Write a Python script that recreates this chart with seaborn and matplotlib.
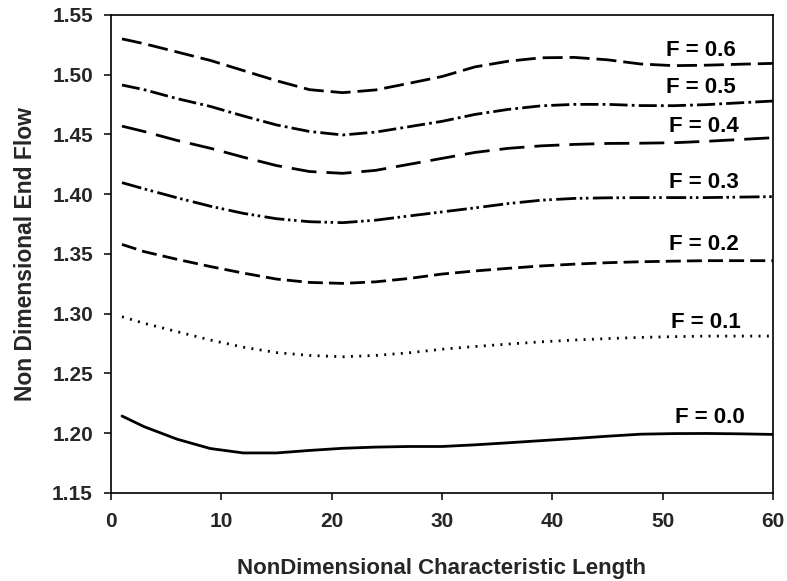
import numpy as np
import pandas as pd
import matplotlib
matplotlib.use("Agg")
import matplotlib.pyplot as plt
import seaborn as sns

# ---- data ----
x_vals = [1, 3, 6, 9, 12, 15, 18, 21, 24, 27, 30, 33, 36, 39, 42, 45, 48, 51, 54, 57, 60]

f06 = [1.530, 1.526, 1.519, 1.512, 1.5035, 1.495, 1.4875, 1.485, 1.4873, 1.4928, 1.4985,
       1.5066, 1.5113, 1.5142, 1.5145, 1.5125, 1.509, 1.5076, 1.508, 1.5088, 1.5095]
f05 = [1.4914, 1.4875, 1.480, 1.4735, 1.4655, 1.458, 1.4525, 1.4496, 1.452, 1.4565, 1.461,
       1.4668, 1.471, 1.474, 1.4752, 1.4752, 1.4742, 1.4741, 1.475, 1.4765, 1.478]
f04 = [1.457, 1.4525, 1.445, 1.4385, 1.431, 1.424, 1.419, 1.4175, 1.420, 1.425, 1.430,
       1.435, 1.4384, 1.4405, 1.4417, 1.4425, 1.4427, 1.4431, 1.4443, 1.4458, 1.4473]
f03 = [1.4097, 1.4045, 1.397, 1.390, 1.384, 1.3795, 1.377, 1.3762, 1.3783, 1.3818, 1.3852,
       1.3886, 1.3922, 1.395, 1.3965, 1.397, 1.3972, 1.3972, 1.3972, 1.3976, 1.398]
f02 = [1.358, 1.352, 1.3455, 1.3395, 1.334, 1.329, 1.3262, 1.3254, 1.3267, 1.3295, 1.3332,
       1.3358, 1.338, 1.340, 1.3415, 1.3427, 1.3435, 1.344, 1.3444, 1.3444, 1.3444]
f01 = [1.2975, 1.292, 1.285, 1.278, 1.272, 1.2675, 1.2651, 1.264, 1.2651, 1.2673, 1.2703,
       1.2726, 1.2746, 1.2765, 1.278, 1.2792, 1.2802, 1.2808, 1.2813, 1.2813, 1.2813]
f00 = [1.2144, 1.2055, 1.195, 1.1872, 1.1835, 1.1835, 1.1856, 1.1874, 1.1884, 1.1889, 1.1889,
       1.1903, 1.192, 1.1938, 1.1956, 1.1975, 1.1992, 1.1997, 1.1998, 1.1995, 1.199]

series_names = ["F = 0.0", "F = 0.1", "F = 0.2", "F = 0.3", "F = 0.4", "F = 0.5", "F = 0.6"]
series_vals = [f00, f01, f02, f03, f04, f05, f06]

x_ticks = [0, 10, 20, 30, 40, 50, 60]
y_ticks = [1.15, 1.20, 1.25, 1.30, 1.35, 1.40, 1.45, 1.50, 1.55]

frames = []
for name, vals in zip(series_names, series_vals):
    frames.append(pd.DataFrame({"x": x_vals, "y": vals, "F": name}))
df = pd.concat(frames, ignore_index=True)

# ---- styling ----
sns.set_theme(style="white")
plt.rcParams["font.family"] = ["Liberation Sans", "DejaVu Sans"]
plt.rcParams["font.weight"] = "bold"

dash_styles = {
    "F = 0.0": "",
    "F = 0.1": (0.7, 2.3),
    "F = 0.2": (5.4, 2.2),
    "F = 0.3": (7.2, 1.3, 0.9, 1.3, 0.9, 1.6),
    "F = 0.4": (9.0, 3.6),
    "F = 0.5": (6.5, 1.5, 1.0, 1.5),
    "F = 0.6": (7.2, 2.5),
}
palette = {n: "black" for n in series_names}

fig = plt.figure(figsize=(7.87, 5.81), dpi=100)
ax = fig.add_axes([0.141, 0.1515, 0.8412, 0.8227])

sns.lineplot(data=df, x="x", y="y", hue="F", style="F", palette=palette,
             dashes=dash_styles, linewidth=2.0, legend=False, ax=ax,
             hue_order=series_names, style_order=series_names)

ax.set_xlim(0, 60)
ax.set_ylim(1.15, 1.55)
ax.set_xticks(x_ticks)
ax.set_yticks(y_ticks)
ax.set_xticklabels([str(t) for t in x_ticks], fontsize=15, fontweight="bold")
ax.set_yticklabels([f"{t:.2f}" for t in y_ticks], fontsize=15, fontweight="bold")
ax.tick_params(axis="x", direction="out", length=5, width=1.1, color="black",
               bottom=True, pad=9)
ax.tick_params(axis="y", direction="out", length=5, width=1.1, color="black",
               left=True, pad=8)
for sp in ax.spines.values():
    sp.set_visible(True)
    sp.set_color("black")
    sp.set_linewidth(1.2)

ax.set_xlabel("NonDimensional Characteristic Length", fontsize=16, fontweight="bold",
              labelpad=19)
ax.set_ylabel("Non Dimensional End Flow", fontsize=16.5, fontweight="bold", labelpad=11)

# curve labels
label_x = [54.3, 53.9, 53.7, 53.7, 53.7, 53.5, 53.5]
label_y = [1.2083, 1.2878, 1.3533, 1.405, 1.4523, 1.4845, 1.5159]
for name, lx, ly in zip(series_names, label_x, label_y):
    ax.text(lx, ly, name, ha="center", va="baseline", fontsize=16, fontweight="bold",
            color="black")

fig.savefig("out.png", dpi=100)
